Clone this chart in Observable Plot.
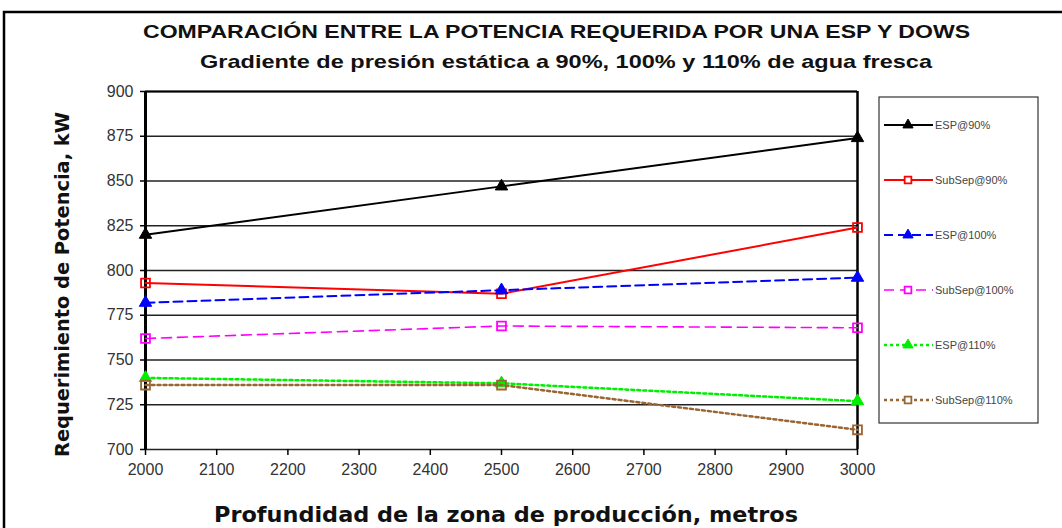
<!DOCTYPE html>
<html>
<head>
<meta charset="utf-8">
<script src="https://cdn.jsdelivr.net/npm/d3@7"></script>
<script src="https://cdn.jsdelivr.net/npm/@observablehq/plot@0.6"></script>
<style>
  html, body { margin: 0; padding: 0; background: #fff; }
  #chart { position: relative; width: 1062px; height: 528px; }
</style>
</head>
<body>
<div id="chart"></div>
<script>
// Depth of the production zone (m)
const depths = [2000, 2500, 3000];
const xTicks = [2000, 2100, 2200, 2300, 2400, 2500, 2600, 2700, 2800, 2900, 3000];
const yTicks = [700, 725, 750, 775, 800, 825, 850, 875, 900];

// Required power (kW) per configuration
const seriesNames = ["ESP@90%", "SubSep@90%", "ESP@100%", "SubSep@100%", "ESP@110%", "SubSep@110%"];
const esp90 = [820, 847, 874];
const subsep90 = [793, 787, 824];
const esp100 = [782, 789, 796];
const subsep100 = [762, 769, 768];
const esp110 = [740, 737, 727];
const subsep110 = [736, 736, 711];

const seriesValues = [esp90, subsep90, esp100, subsep100, esp110, subsep110];
const styles = [
  {color: "#000000", dash: null, width: 2, symbol: "triangle"},
  {color: "#ff0000", dash: null, width: 2, symbol: "square"},
  {color: "#0000ff", dash: "9,5", width: 2, symbol: "triangle"},
  {color: "#ff00ff", dash: "10,6", width: 1.6, symbol: "square"},
  {color: "#00ee00", dash: "3,3", width: 2.5, symbol: "triangle"},
  {color: "#996633", dash: "3,3", width: 2.5, symbol: "square"}
];

const rows = seriesNames.map((name, i) =>
  depths.map((d, j) => ({series: name, depth: d, kw: seriesValues[i][j]})));

const font = "'Liberation Sans', Arial, sans-serif";
const wide = "'DejaVu Sans', Verdana, sans-serif";

const seriesMarks = rows.flatMap((data, i) => {
  const s = styles[i];
  const marks = [
    Plot.lineY(data, {x: "depth", y: "kw", stroke: s.color, strokeWidth: s.width,
      strokeDasharray: s.dash ?? undefined})
  ];
  if (s.symbol === "triangle") {
    marks.push(Plot.dot(data, {x: "depth", y: "kw", symbol: "triangle", r: 4.6,
      fill: s.color, stroke: s.color, strokeWidth: 1}));
  } else {
    marks.push(Plot.dot(data, {x: "depth", y: "kw", symbol: "square", r: 5,
      fill: "none", stroke: s.color, strokeWidth: 1.8}));
  }
  return marks;
});

const plot = Plot.plot({
  width: 1062,
  height: 528,
  marginLeft: 145,
  marginRight: 205,
  marginTop: 91,
  marginBottom: 79,
  style: {fontFamily: font, background: "#fff", overflow: "visible"},
  x: {domain: [2000, 3000]},
  y: {domain: [700, 900]},
  marks: [
    Plot.ruleY(yTicks, {stroke: "#222", strokeWidth: 1.4}),
    Plot.ruleY([900], {stroke: "#000", strokeWidth: 2.2}),
    Plot.ruleX([2000], {stroke: "#000", strokeWidth: 3}),
    Plot.ruleX([3000], {stroke: "#000", strokeWidth: 2.5}),
    Plot.axisY({ticks: yTicks, tickSize: 5, tickPadding: 7, tickFormat: d => d,
      fontSize: 16, fill: "#333", stroke: "#000", strokeWidth: 1.5, label: null}),
    Plot.axisX({ticks: xTicks, tickSize: 6, tickPadding: 8, tickFormat: d => String(d),
      fontSize: 16, fill: "#333", stroke: "#000", strokeWidth: 1.5, label: null}),
    ...seriesMarks
  ]
});

document.getElementById("chart").appendChild(plot);

const svg = d3.select(plot);

// Outer frame of the figure
svg.append("rect")
  .attr("x", 4).attr("y", 12).attr("width", 1070).attr("height", 530)
  .attr("fill", "none").attr("stroke", "#000").attr("stroke-width", 2.5);

// Titles
svg.append("text")
  .attr("x", 143).attr("y", 38).attr("text-anchor", "start")
  .attr("font-family", font).attr("font-weight", "bold").attr("font-size", 19)
  .attr("textLength", 827).attr("lengthAdjust", "spacingAndGlyphs")
  .attr("fill", "#111")
  .text("COMPARACIÓN ENTRE LA POTENCIA REQUERIDA POR UNA ESP Y DOWS");
svg.append("text")
  .attr("x", 200).attr("y", 68).attr("text-anchor", "start")
  .attr("font-family", font).attr("font-weight", "bold").attr("font-size", 19)
  .attr("textLength", 732).attr("lengthAdjust", "spacingAndGlyphs")
  .attr("fill", "#111")
  .text("Gradiente de presión estática a 90%, 100% y 110% de agua fresca");

// Axis titles
svg.append("text")
  .attr("transform", "translate(69,457) rotate(-90)").attr("text-anchor", "start")
  .attr("font-family", wide).attr("font-weight", "bold").attr("font-size", 20)
  .attr("textLength", 345).attr("lengthAdjust", "spacingAndGlyphs")
  .attr("fill", "#111")
  .text("Requerimiento de Potencia, kW");
svg.append("text")
  .attr("x", 214).attr("y", 522).attr("text-anchor", "start")
  .attr("font-family", wide).attr("font-weight", "bold").attr("font-size", 21)
  .attr("textLength", 584).attr("lengthAdjust", "spacingAndGlyphs")
  .attr("fill", "#111")
  .text("Profundidad de la zona de producción, metros");

// Legend
const legend = svg.append("g");
legend.append("rect")
  .attr("x", 879).attr("y", 97).attr("width", 159).attr("height", 326)
  .attr("fill", "#fff").attr("stroke", "#333").attr("stroke-width", 1.2);
seriesNames.forEach((name, i) => {
  const s = styles[i];
  const y = 125 + i * 55;
  legend.append("line")
    .attr("x1", 884).attr("x2", 933).attr("y1", y).attr("y2", y)
    .attr("stroke", s.color).attr("stroke-width", s.width)
    .attr("stroke-dasharray", s.dash);
  const sym = d3.symbol(s.symbol === "triangle" ? d3.symbolTriangle : d3.symbolSquare, 45);
  legend.append("path")
    .attr("d", sym())
    .attr("transform", `translate(908,${y})`)
    .attr("fill", s.symbol === "triangle" ? s.color : "#fff")
    .attr("stroke", s.color).attr("stroke-width", s.symbol === "triangle" ? 1 : 1.8);
  legend.append("text")
    .attr("x", 935).attr("y", y + 4).attr("text-anchor", "start")
    .attr("font-family", font).attr("font-size", 11).attr("fill", "#444")
    .text(name);
});
</script>
</body>
</html>
